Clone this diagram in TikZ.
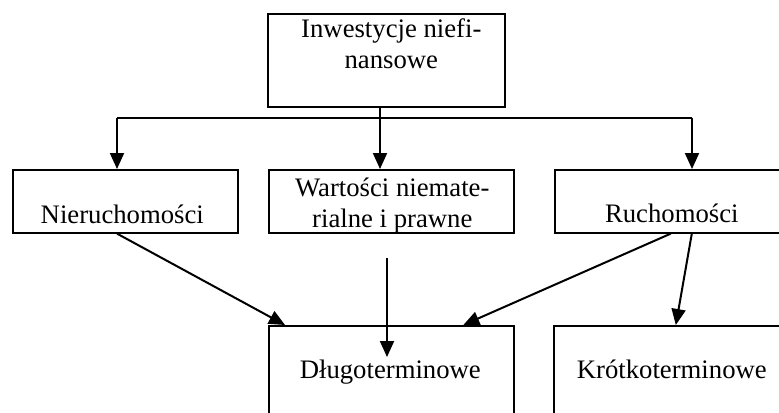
\documentclass[tikz,border=0pt]{standalone}
\usepackage{fontspec}
\setmainfont{Liberation Serif}
\usetikzlibrary{arrows.meta,calc}

\tikzstyle{box}=[draw,line width=0.8pt,rectangle,anchor=north west,inner sep=0pt]
\tikzstyle{boxtext}=[anchor=base,align=center,inner sep=0pt,font=\fontsize{13.35}{15.5}\selectfont]
\tikzstyle{link}=[draw,line width=1pt,-{Triangle[length=8pt,width=7pt]}]
\tikzstyle{bar}=[draw,line width=1pt]
\newcommand{\pxunit}{0.5pt}

\begin{document}
\begin{tikzpicture}[x=\pxunit, y=-\pxunit]
    \useasboundingbox (0,0) rectangle (779,412);
    \clip (0,0) rectangle (779,412);
    % First we draw the boxes
    \foreach \pos/\name/\w/\h in {{(267,13)/inw/237/93}, {(12,169)/nier/225/63},
        {(268,169)/wart/245/63}, {(554,169)/ruch/234/63},
        {(268,325)/dlug/245/93}, {(553,325)/krot/234/93}}
        \node[box, minimum width=\w*\pxunit, minimum height=\h*\pxunit] (\name) at \pos {};
    % Then the texts inside them (base = last line)
    \foreach \name/\dx/\dy/\txt in {inw/5/55/{Inwestycje niefi-\\nansowe},
        nier/-3/54/{Nieruchomości}, wart/1/58.5/{Wartości niemate-\\rialne i prawne},
        ruch/0/53/{Ruchomości}, dlug/-1/53/{Długoterminowe}, krot/1/53/{Krótkoterminowe}}
        \node[boxtext] (\name-t) at ($(\name.north)+(\dx,\dy)$) {\txt};
    % Split line under the top box
    \coordinate (hub) at (380,118);
    \coordinate (hl) at (117,118);
    \coordinate (hr) at (692,118);
    \coordinate (mid) at (387,258);
    \coordinate (midend) at (387,357);
    \path[bar] (hl) -- (hr);
    \path[bar] (inw.south -| hub) -- (hub);
    \path[link] (hub) -- (hub |- wart.north);
    \path[link] (hl) -- (hl |- nier.north);
    \path[link] (hr) -- (hr |- ruch.north);
    % Connect the middle boxes with the bottom ones
    \path[link] (hl |- nier.south) -- ($(dlug.north west)+(17,0)$);
    \path[link] (mid) -- (midend);
    \path[link] ($(ruch.south)+(-1,0)$) -- ($(dlug.north)+(72,0)$);
    \path[link] ($(ruch.south)+(20,0)$) -- ($(krot.north)+(5,0)$);
\end{tikzpicture}
\end{document}
